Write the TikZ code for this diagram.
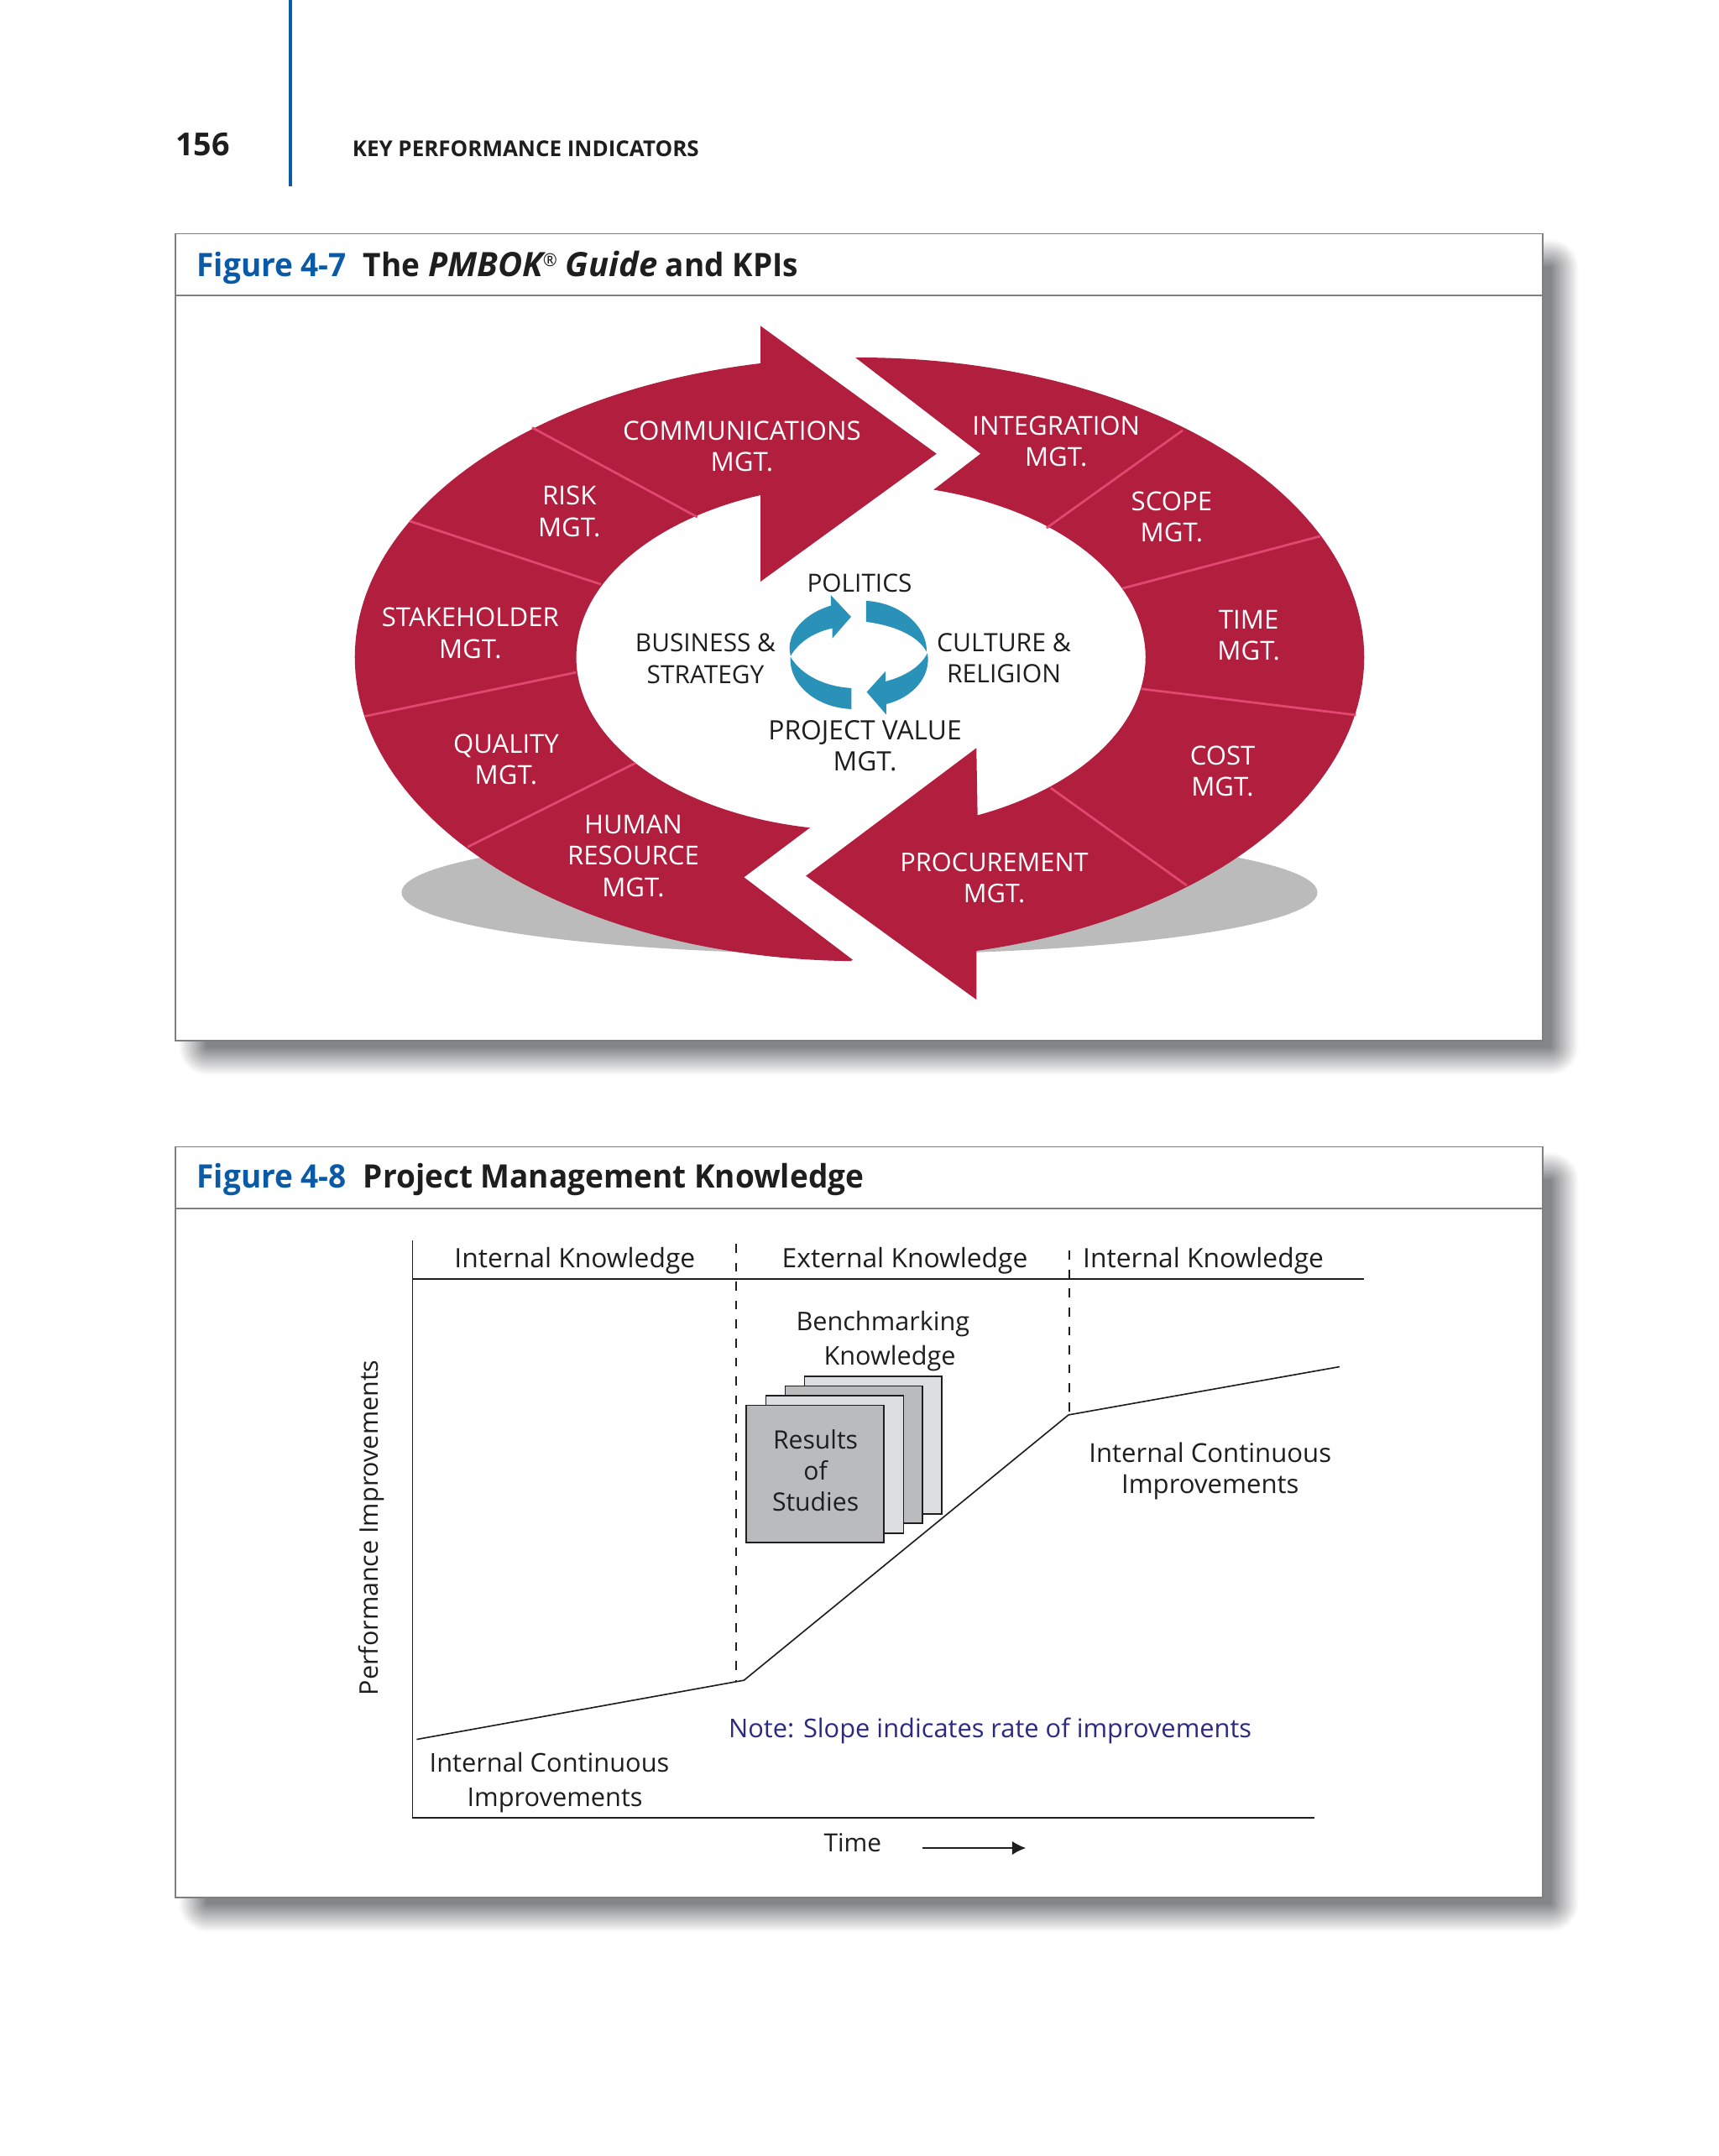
\documentclass[tikz,border=0pt]{standalone}
\usepackage{fontspec}
\setmainfont{Open Sans}
\newfontfamily\titlefont[FakeStretch=0.96]{Open Sans}
\usetikzlibrary{arrows.meta}
\definecolor{crim}{HTML}{B11E3E}
\definecolor{pinkline}{HTML}{E2476F}
\definecolor{tealc}{HTML}{2A91B8}
\definecolor{figblue}{HTML}{0B5AA6}
\definecolor{framegray}{HTML}{7F7F7F}
\definecolor{shadowgray}{HTML}{808285}
\definecolor{floorgray}{HTML}{BBBBBB}
\definecolor{notecol}{HTML}{2B2A7E}
\definecolor{ink}{HTML}{1E1E1E}
\definecolor{sheetdark}{HTML}{B9BBBD}
\definecolor{sheetlight}{HTML}{DCDEE0}
\tikzset{
  x=1pt,y=-1pt,
  lab/.style={font=\fontsize{19}{22.7}\selectfont,text=white,align=center,inner sep=0pt},
  blab/.style={font=\fontsize{18.4}{22.7}\selectfont,text=ink,align=center,inner sep=0pt},
  klab/.style={text=ink,align=center,inner sep=0pt},
  sepline/.style={draw=pinkline,line width=1.7pt},
  framebox/.style={draw=framegray,line width=1.1pt,fill=white},
  figno/.style={font=\fontsize{23.5}{28}\selectfont\titlefont\bfseries,text=figblue,anchor=base west,inner sep=0pt},
  figtitle/.style={font=\fontsize{23.5}{28}\selectfont\titlefont\bfseries,text=ink,anchor=base west,inner sep=0pt},
  sheet/.style={draw=ink,line width=1.1pt},
  axisline/.style={draw=ink,line width=1pt},
  dashv/.style={draw=ink,line width=1pt,dash pattern=on 6.5pt off 7.3pt},
}
\newcommand{\softshadow}[4]{%
  \foreach \e in {10,9,...,-10}{%
    \pgfmathsetmacro{\pct}{100*(10.5-\e)/21}%
    \pgfmathsetmacro{\rad}{11+\e}%
    \fill[shadowgray!\pct!white,rounded corners=\rad pt] ({#1-\e},{#2-\e}) rectangle ({#3+\e},{#4+\e});}}
\newcommand{\titleit}[1]{{\normalfont\fontsize{24.4}{28}\selectfont\bfseries\itshape #1}}
\begin{document}
\begin{tikzpicture}
\useasboundingbox (0,0) rectangle (1250,1568);
\fill[white] (0,0) rectangle (1250,1568);
% page head
\draw[figblue,line width=2.4pt] (211,0) -- (211,135.5);
\node[font=\fontsize{23}{28}\selectfont\bfseries,text=ink,anchor=base west,inner sep=0pt] (pageno) at (127.5,113) {156};
\node[font=\fontsize{15.85}{20}\selectfont\bfseries,text=ink,anchor=base west,inner sep=0pt] (runhead) at (256,114) {KEY PERFORMANCE INDICATORS};
% figure 4-7 frame
\softshadow{140}{184}{1138}{772}
\draw[framebox] (127.5,170) rectangle (1122,757);
\draw[draw=framegray,line width=1.1pt] (127.5,215) -- (1122,215);
\node[figno] (f7no) at (143,201) {Figure 4-7};
\node[figtitle] (f7t) at (264,201) {The \titleit{PMBOK}\raisebox{7.5pt}{\fontsize{13}{13}\selectfont\mdseries ®}\hspace{6pt}\titleit{Guide} and KPIs};
% floor shadow, showing only outside the ring
\fill[floorgray] (625,649) ellipse [x radius=333,y radius=45];
\fill[white] (625,478) ellipse [x radius=367,y radius=218];
% left sweep
\fill[crim] (620,698)
  -- plot[domain=91:180,samples=60] ({625+367*cos(\x)},{478+221*sin(\x)})
  -- plot[domain=180:258.7,samples=60] ({625+367*cos(\x)},{478+218*sin(\x)})
  -- (553,237) -- (681,330) -- (553,423)
  -- plot[domain=249.35:100.3,samples=80] ({626+207*cos(\x)},{478+126*sin(\x)})
  -- (541,638) -- cycle;
% right sweep
\fill[crim] (622,260)
  -- plot[domain=269.5:360,samples=60] ({625+367*cos(\x)},{478+218*sin(\x)})
  -- plot[domain=360:436.6,samples=60] ({625+367*cos(\x)},{478+219.5*sin(\x)})
  -- (710,727) -- (586,637) -- (710,544)
  -- plot[domain=425.8:284.8,samples=80] ({626+207*cos(\x)},{478+126*sin(\x)})
  -- (713,330) -- cycle;
% separators
\draw[sepline] (387,311) -- (507,376);
\draw[sepline] (298,379) -- (437,425);
\draw[sepline] (265,521) -- (419,489);
\draw[sepline] (340,616) -- (462,555);
\draw[sepline] (860,313) -- (761,384);
\draw[sepline] (960,390) -- (816,428);
\draw[sepline] (830,501) -- (986,520);
\draw[sepline] (764,573) -- (863,644);
% labels
\node[lab,font=\fontsize{19.1}{22.7}\selectfont] (comm) at (539.5,324.5) {COMMUNICATIONS\\MGT.};
\node[lab] (risk) at (414,372) {RISK\\MGT.};
\node[lab] (stake) at (342,460.5) {STAKEHOLDER\\MGT.};
\node[lab] (qual) at (368,552.5) {QUALITY\\MGT.};
\node[lab] (human) at (460.5,622.5) {HUMAN\\RESOURCE\\MGT.};
\node[lab,font=\fontsize{18.75}{22.7}\selectfont] (proc) at (723,638.5) {PROCUREMENT\\MGT.};
\node[lab] (cost) at (889,561) {COST\\MGT.};
\node[lab] (time) at (908,462) {TIME\\MGT.};
\node[lab] (scope) at (852,376) {SCOPE\\MGT.};
\node[lab] (integ) at (768,321) {INTEGRATION\\MGT.};
\node[blab,font=\fontsize{18.2}{22.7}\selectfont] (biz) at (513,479) {BUSINESS \&\\STRATEGY};
\node[blab] (cult) at (730,478.5) {CULTURE \&\\RELIGION};
\node[blab,font=\fontsize{18.2}{22.7}\selectfont] (pol) at (625,424) {POLITICS};
\node[blab,font=\fontsize{19.4}{22.7}\selectfont] (pvm) at (629,542.5) {PROJECT VALUE\\MGT.};
% cycle arrows
\begin{scope}[shift={(537.1,396.7)},x=.2034pt,y=-.2034pt]
\fill[tealc] (186,395) .. controls (165,320) and (230,245) .. (330,215) -- (330,178) -- (402,255) -- (335,332) -- (335,296) .. controls (270,310) and (215,345) .. (186,395) -- cycle;
\fill[tealc] (456,198) .. controls (580,205) and (675,290) .. (672,380) .. controls (640,320) and (550,285) .. (456,273) -- cycle;
\fill[tealc] (185,398) .. controls (225,465) and (310,505) .. (403,510) -- (403,585) .. controls (280,580) and (180,500) .. (185,398) -- cycle;
\fill[tealc] (675,385) .. controls (690,470) and (620,545) .. (528,567) -- (528,605) -- (458,524) -- (525,450) -- (525,486) .. controls (590,470) and (650,435) .. (675,385) -- cycle;
\end{scope}
% figure 4-8 frame
\softshadow{140}{848}{1138}{1395}
\draw[framebox] (127.5,834) rectangle (1122,1380);
\draw[draw=framegray,line width=1.1pt] (127.5,879) -- (1122,879);
\node[figno] (f8no) at (143,864) {Figure 4-8};
\node[figtitle] (f8t) at (264,864) {Project Management Knowledge};
% axes
\coordinate (axtop) at (300,902);
\coordinate (axorg) at (300,1322);
\coordinate (axr) at (956,1322);
\coordinate (hdl) at (300,930);
\coordinate (hdr) at (992,930);
\draw[axisline] (axtop) -- (axorg) -- (axr);
\draw[axisline] (hdl) -- (hdr);
\coordinate (d1t) at (535.3,904.5);
\coordinate (d1b) at (535.3,1222);
\coordinate (d2t) at (777.4,909.5);
\coordinate (d2b) at (777.4,1030);
\draw[dashv] (d1t) -- (d1b);
\draw[dashv] (d2t) -- (d2b);
% curve
\coordinate (c1) at (303,1265);
\coordinate (c2) at (541,1222);
\coordinate (c3) at (777,1029);
\coordinate (c4) at (974,994);
\draw[axisline] (c1) -- (c2) -- (c3) -- (c4);
% sheets
\filldraw[sheet,fill=sheetlight] (585,1001) rectangle (685,1101);
\filldraw[sheet,fill=sheetdark] (571,1008) rectangle (671,1108);
\filldraw[sheet,fill=sheetlight] (557,1015) rectangle (657,1115);
\filldraw[sheet,fill=sheetdark] (542.5,1022) rectangle (642.5,1122);
\node[klab,font=\fontsize{18.4}{22.7}\selectfont] (res) at (593,1069.5) {Results\\of\\Studies};
% labels
\node[klab,font=\fontsize{19.4}{24}\selectfont] (ik1) at (418,917) {Internal Knowledge};
\node[klab,font=\fontsize{19.4}{24}\selectfont] (ek) at (658,917) {External Knowledge};
\node[klab,font=\fontsize{19.4}{24}\selectfont] (ik2) at (875,917) {Internal Knowledge};
\node[klab,font=\fontsize{18.7}{25}\selectfont] (bm) at (642,975.5) {Benchmarking\\\hspace*{10pt}Knowledge};
\node[klab,font=\fontsize{19}{22.5}\selectfont] (icr) at (880,1070) {Internal Continuous\\Improvements};
\node[klab,font=\fontsize{18.8}{25}\selectfont] (icl) at (399.5,1296.5) {Internal Continuous\\\hspace*{8pt}Improvements};
\node[klab,text=notecol,font=\fontsize{18.8}{24}\selectfont] (note) at (720,1259) {Note: Slope indicates rate of improvements};
\node[klab,rotate=90,font=\fontsize{18.6}{24}\selectfont] (perf) at (270,1111) {Performance Improvements};
\node[klab,font=\fontsize{18.2}{24}\selectfont] (timel) at (620,1340) {Time};
\coordinate (ta) at (671,1344);
\coordinate (tb) at (746,1344);
\draw[axisline,-{Latex[length=10pt,width=10pt]}] (ta) -- (tb);
\end{tikzpicture}
\end{document}
